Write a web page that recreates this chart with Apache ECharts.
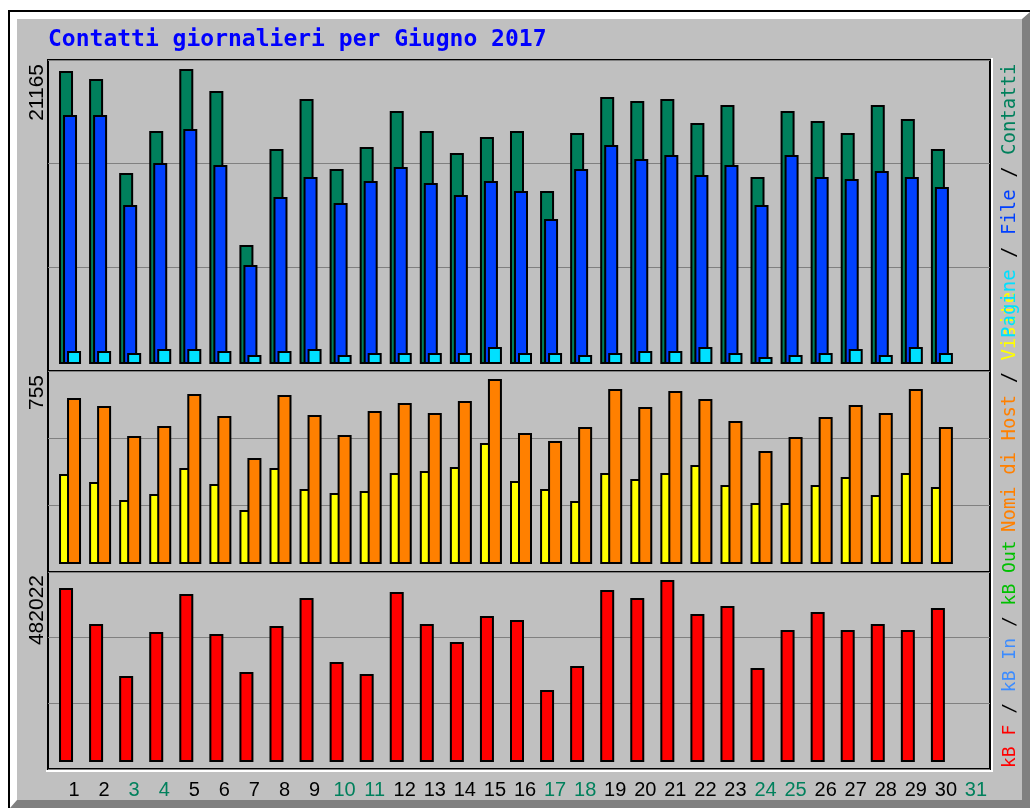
<!DOCTYPE html>
<html><head><meta charset="utf-8">
<script src="https://cdn.jsdelivr.net/npm/echarts@6/dist/echarts.min.js"></script>
<style>html,body{margin:0;padding:0;background:#fff}#c{width:1030px;height:808px}</style>
</head><body><div id="c"></div>
<script>
// ---- data ----
const chartTitle = 'Contatti giornalieri per Giugno 2017';
const days = ['1','2','3','4','5','6','7','8','9','10','11','12','13','14','15','16','17','18','19','20','21','22','23','24','25','26','27','28','29','30','31'];
const weekendDays = ['3','4','10','11','17','18','24','25','31'];
const contatti = [21022,20449,13704,16718,21165,19588,8538,15426,19014,13991,15570,18153,16718,15139,16287,16718,12413,16574,19157,18870,19014,17292,18583,13417,18153,17435,16574,18583,17579,15426];
const file = [17866,17866,11408,14422,16861,14278,7103,11982,13417,11552,13130,14135,12987,12126,13130,12413,10404,13991,15713,14709,14996,13561,14278,11408,14996,13417,13274,13848,13417,12700];
const pagine = [933,933,789,1076,1076,933,646,933,1076,646,789,789,789,789,1220,789,789,646,789,933,933,1220,789,502,646,789,1076,646,1220,789];
const visite = [367,335,261,286,392,326,220,392,306,290,298,371,380,396,494,339,306,257,371,347,371,404,322,249,249,322,355,282,371,314];
const nomiHost = [677,645,522,563,694,604,433,690,608,526,624,657,616,665,755,535,502,559,714,641,706,673,584,461,518,600,649,616,714,559];
const kbF = [460840,365493,227771,344305,444948,339008,238365,360196,434354,264850,233068,450245,365493,317820,386681,376087,190692,254256,455542,434354,482022,391978,413166,248959,349602,397275,349602,365493,349602,407869];
const legendHits = [['Pagine','#00e0ff'],['/','#000'],['File','#0040ff'],['/','#000'],['Contatti','#00805c']];
const legendVisits = [['Nomi di Host','#ff8000'],['/','#000'],['Visite','#ffff00']];
const legendKb = [['kB F','#ff0000'],['/','#000'],['kB In','#3c8cff'],['/','#000'],['kB Out','#00c000']];

// ---- helpers ----
const maxHits = Math.max(...contatti), maxSites = Math.max(...nomiHost), maxKb = Math.max(...kbF);
function richLegend(items, size){
  const rich = {}; const parts = [];
  items.forEach((it,i)=>{ rich['s'+i] = {fill: it[1], font: size+'px "DejaVu Sans Mono"'}; parts.push('{s'+i+'|'+it[0]+'}'); });
  return {text: parts.join('{s1| }'), rich};
}
const chart = echarts.init(document.getElementById('c'), null, {renderer:'canvas'});
const frameY = {type:'value', min:0, max:3, interval:1, axisLine:{show:false}, axisTick:{show:false}, axisLabel:{show:false}, splitLine:{show:true, lineStyle:{color:'#808080', width:1}}};
const hiddenX = () => ({type:'category', data:days, show:false, boundaryGap:true});
const barStyle = (c) => ({color:c, borderColor:'#000', borderWidth:2});
const L1 = richLegend(legendHits, 19), L2 = richLegend(legendVisits, 19), L3 = richLegend(legendKb, 18);
const rotTxt = (x,y,text,align,font,fill,extra) => Object.assign({type:'text', x, y, rotation: Math.PI/2, z:100, style:Object.assign({text, align, verticalAlign:'middle', font, fill}, extra||{})});

chart.setOption({
  animation:false,
  backgroundColor:'#ffffff',
  grid:[
    {left:48, top:60, width:942, height:311, show:true, borderColor:'#000', borderWidth:2, backgroundColor:'transparent'},
    {left:48, top:371, width:942, height:201, show:true, borderColor:'#000', borderWidth:2, backgroundColor:'transparent'},
    {left:48, top:572, width:942, height:197, show:true, borderColor:'#000', borderWidth:2, backgroundColor:'transparent'},
    {left:55, top:61, width:932, height:303},
    {left:55, top:372, width:932, height:192},
    {left:51, top:573, width:932, height:189},
    {left:59, top:773, width:932, height:2}
  ],
  xAxis:[
    {gridIndex:0, type:'value', show:false, min:0, max:1},
    {gridIndex:1, type:'value', show:false, min:0, max:1},
    {gridIndex:2, type:'value', show:false, min:0, max:1},
    Object.assign({gridIndex:3}, hiddenX()),
    Object.assign({gridIndex:4}, hiddenX()),
    Object.assign({gridIndex:5}, hiddenX()),
    {gridIndex:6, type:'category', data:days, boundaryGap:true, axisLine:{show:false}, axisTick:{show:false},
     axisLabel:{show:true, interval:0, margin:5, fontFamily:'Liberation Sans', fontSize:20, color:'#000',
       formatter:(v)=> weekendDays.includes(v) ? '{w|'+v+'}' : '{n|'+v+'}',
       rich:{w:{color:'#00805c', fontFamily:'Liberation Sans', fontSize:20}, n:{color:'#000', fontFamily:'Liberation Sans', fontSize:20}}}}
  ],
  yAxis:[
    Object.assign({gridIndex:0}, frameY),
    Object.assign({gridIndex:1}, frameY),
    Object.assign({gridIndex:2}, frameY),
    {gridIndex:3, type:'value', min:0, max: maxHits*303/295, show:false},
    {gridIndex:4, type:'value', min:0, max: maxSites*192/185, show:false},
    {gridIndex:5, type:'value', min:0, max: maxKb*189/182, show:false},
    {gridIndex:6, type:'value', show:false}
  ],
  series:[
    {name:'Contatti', type:'bar', xAxisIndex:3, yAxisIndex:3, data:contatti, barWidth:14, barGap:'-71.4%', itemStyle:barStyle('#00805c')},
    {name:'File', type:'bar', xAxisIndex:3, yAxisIndex:3, data:file, barWidth:14, barGap:'-71.4%', itemStyle:barStyle('#0040ff')},
    {name:'Pagine', type:'bar', xAxisIndex:3, yAxisIndex:3, data:pagine, barWidth:14, barGap:'-71.4%', itemStyle:barStyle('#00e0ff')},
    {name:'Visite', type:'bar', xAxisIndex:4, yAxisIndex:4, data:visite, barWidth:14, barGap:'-42.9%', itemStyle:barStyle('#ffff00')},
    {name:'Nomi di Host', type:'bar', xAxisIndex:4, yAxisIndex:4, data:nomiHost, barWidth:14, barGap:'-42.9%', itemStyle:barStyle('#ff8000')},
    {name:'kB F', type:'bar', xAxisIndex:5, yAxisIndex:5, data:kbF, barWidth:14, itemStyle:barStyle('#ff0000')}
  ],
  graphic:[
    {type:'rect', z:-20, shape:{x:8, y:10, width:1022, height:798}, style:{fill:'#000'}},
    {type:'rect', z:-19, shape:{x:10, y:12, width:1020, height:796}, style:{fill:'#808080'}},
    {type:'polygon', z:-18, shape:{points:[[10,12],[1030,12],[1022,19],[17,19],[17,800],[10,808]]}, style:{fill:'#ffffff'}},
    {type:'rect', z:-17, shape:{x:17, y:19, width:1005, height:781}, style:{fill:'#c0c0c0'}},
    {type:'polyline', z:50, shape:{points:[[46,771],[992,771],[992,58]]}, style:{stroke:'#ffffff', lineWidth:2, fill:null}},
    {type:'text', x:48, y:40, z:100, style:{text:chartTitle, font:'bold 23px "DejaVu Sans Mono"', fill:'#0000ff', verticalAlign:'middle', align:'left'}},
    rotTxt(37, 64, String(maxHits), 'right', '21px "Liberation Sans"', '#000'),
    rotTxt(37, 375, String(maxSites), 'right', '21px "Liberation Sans"', '#000'),
    rotTxt(37, 575, String(maxKb), 'right', '21px "Liberation Sans"', '#000'),
    rotTxt(1010, 532, L2.text, 'left', '19px "DejaVu Sans Mono"', '#000', {rich:L2.rich}),
    rotTxt(1010, 338, L1.text, 'left', '19px "DejaVu Sans Mono"', '#000', {rich:L1.rich}),
    rotTxt(1010, 768, L3.text, 'left', '18px "DejaVu Sans Mono"', '#000', {rich:L3.rich})
  ]
});
</script></body></html>
